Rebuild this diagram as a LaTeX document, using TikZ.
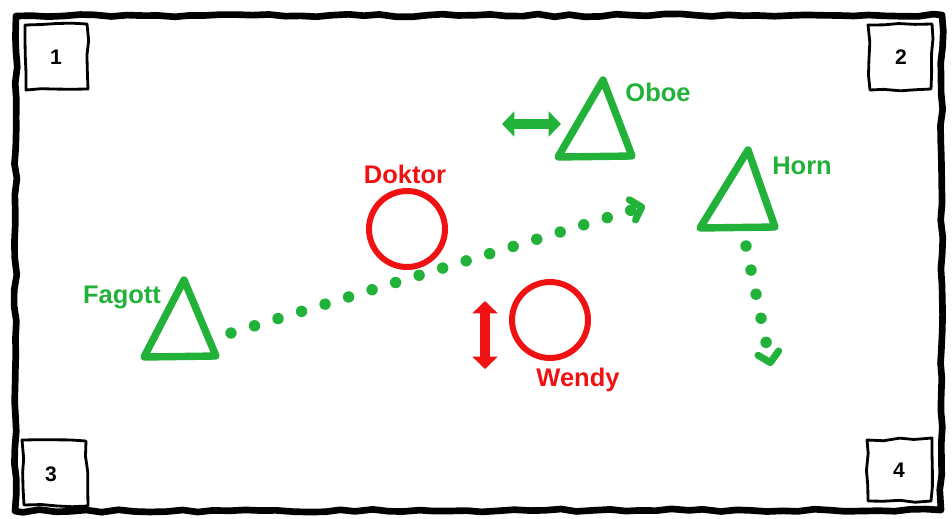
\documentclass[tikz,border=0pt]{standalone}
\usepackage{fontspec}
\setmainfont{Liberation Sans}
\usetikzlibrary{arrows.meta,decorations.pathmorphing,shapes.geometric}
\definecolor{sgreen}{RGB}{34,178,58}
\definecolor{sred}{RGB}{240,18,18}
\begin{document}
\begin{tikzpicture}[x=0.02cm,y=-0.02cm,
  sketch/.style={decorate,decoration={random steps,segment length=9pt,amplitude=0.8pt},line join=round,line cap=round},
  frame/.style={sketch,line width=3.8pt},
  cbox/.style={sketch,line width=1.6pt},
  cnum/.style={font=\bfseries\fontsize{12}{14}\selectfont},
  tri/.style={draw=sgreen,line width=4.2pt,line join=round,line cap=round},
  ring/.style={draw=sred,line width=3.4pt,circle,minimum size=1.52cm,inner sep=0pt},
  glabel/.style={text=sgreen,font=\bfseries\fontsize{14.5}{16}\selectfont},
  rlabel/.style={text=sred,font=\bfseries\fontsize{14.5}{16}\selectfont},
  dots/.style={draw=sgreen,line width=6.5pt,line cap=round,dash pattern=on 0pt off 14pt,
    -{Straight Barb[length=5.5pt,width=12pt,line width=4pt,line cap=round,line join=round]}},
  dbl/.style={line width=5.5pt,{Triangle[length=7pt,width=14pt]}-{Triangle[length=7pt,width=14pt]}}
]
\pgfmathsetseed{7}
\useasboundingbox (0,0) rectangle (952,518);
\fill[white] (0,0) rectangle (952,518);
% outer frame
\draw[frame] (16,16) -- (942,15) -- (941,510) -- (15,511) -- cycle;
% corner boxes
\draw[cbox] (25,25) -- (87,24) -- (88,89) -- (26,90) -- cycle;
\node[cnum] (n1) at (56,57) {1};
\draw[cbox] (868,25) -- (932,24) -- (931,89) -- (870,90) -- cycle;
\node[cnum] (n2) at (901,57) {2};
\draw[cbox] (22,440) -- (86,441) -- (88,506) -- (24,505) -- cycle;
\node[cnum] (n3) at (51,474) {3};
\draw[cbox] (867,440) -- (932,438) -- (931,501) -- (868,501) -- cycle;
\node[cnum] (n4) at (899,470) {4};
% Oboe
\coordinate (oa) at (603,80);
\coordinate (obl) at (558,157);
\coordinate (obr) at (632,156);
\draw[tri] (oa) -- (obr) -- (obl) -- cycle;
\node[glabel] (oboe) at (658,92) {Oboe};
\coordinate (ol) at (502,124);
\coordinate (or) at (561,124);
\draw[dbl,sgreen] (ol) -- (or);
% Horn
\coordinate (ha) at (748,150);
\coordinate (hbl) at (700,228);
\coordinate (hbr) at (775,227);
\draw[tri] (ha) -- (hbr) -- (hbl) -- cycle;
\node[glabel] (horn) at (802,166) {Horn};
\coordinate (hs) at (746,246);
\coordinate (he) at (771,366);
\draw[dots] (hs) -- (he);
% Fagott
\coordinate (fa) at (184,280);
\coordinate (fbl) at (144,357);
\coordinate (fbr) at (216,356);
\draw[tri] (fa) -- (fbr) -- (fbl) -- cycle;
\node[glabel] (fagott) at (122,297) {Fagott};
\coordinate (fs) at (231,333);
\coordinate (fe) at (645,206);
\draw[dots] (fs) -- (fe);
% Doktor
\node[ring] (doktor) at (407,229) {};
\node[rlabel] (dlab) at (405,174) {Doktor};
% Wendy
\node[ring] (wendy) at (550,320) {};
\node[rlabel] (wlab) at (578,380) {Wendy};
\coordinate (wt) at (485,301);
\coordinate (wb) at (485,369);
\draw[dbl,sred] (wt) -- (wb);
\end{tikzpicture}
\end{document}
